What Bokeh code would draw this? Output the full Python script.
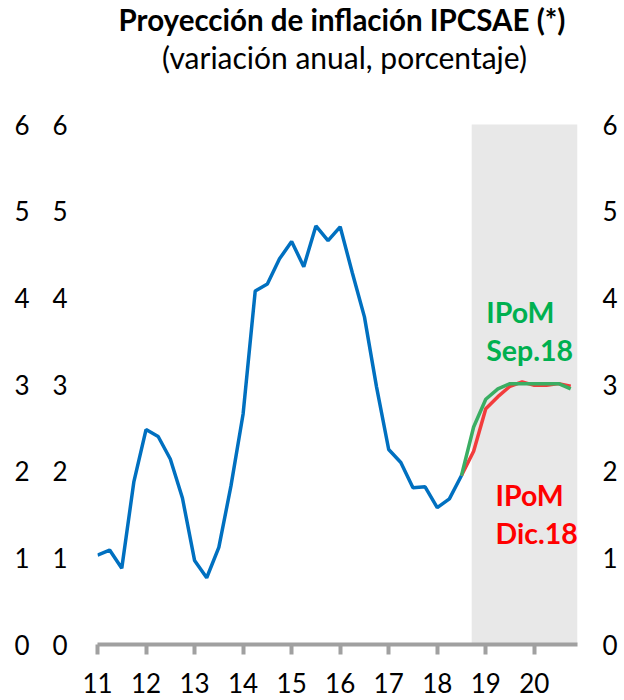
from bokeh.plotting import figure
from bokeh.models import LinearAxis, Range1d, FixedTicker, Label
from bokeh.embed import file_html
from bokeh.resources import INLINE

# ---------------- data ----------------
start_year = 2011  # first quarter of the series (quarterly data)
ipcsae = [1.03, 1.09, 0.88, 1.88, 2.48, 2.40, 2.14, 1.69, 0.97, 0.77,
          1.12, 1.83, 2.66, 4.08, 4.16, 4.45, 4.65, 4.36, 4.83, 4.66,
          4.82, 4.29, 3.78, 2.97, 2.25, 2.10, 1.81, 1.82, 1.58, 1.68, 1.95]
ipom_sep18 = [1.95, 2.51, 2.83, 2.95, 3.01, 3.01, 3.01, 3.01, 3.01, 2.95]
ipom_dic18 = [1.95, 2.23, 2.72, 2.86, 2.98, 3.03, 2.99, 2.99, 3.01, 2.98]
proj_start_index = 30            # quarter index where projections start
shade_start, shade_end = 2018.71, 2020.89
year_ticks = list(range(2011, 2021))
year_labels = {y: str(y)[2:] for y in year_ticks}
y_ticks = [0, 1, 2, 3, 4, 5, 6]

title_text = "Proyección de inflación IPCSAE (*)"
subtitle_text = "(variación anual, porcentaje)"
sep_label = ["IPoM", "Sep.18"]
sep_label_y = [3.84, 3.40]
sep_label_x = 2019.01
dic_label = ["IPoM", "Dic.18"]
dic_label_y = [1.725, 1.29]
dic_label_x = 2019.20

FONT = "Lato"

x_hist = [start_year + i * 0.25 for i in range(len(ipcsae))]
x_proj = [start_year + (proj_start_index + i) * 0.25 for i in range(len(ipom_sep18))]

p = figure(width=620, height=700, output_backend="svg", toolbar_location=None,
           x_range=Range1d(2011.0, shade_end), y_range=Range1d(0, 7.431),
           min_border_left=97, min_border_right=0, min_border_top=0, min_border_bottom=56,
           x_axis_location=None, y_axis_location=None)
p.outline_line_color = None
p.xgrid.visible = False
p.ygrid.visible = False
p.background_fill_color = "white"
p.border_fill_color = "white"

# shaded projection area
p.quad(left=[shade_start], right=[shade_end], bottom=[y_ticks[0]], top=[y_ticks[-1]],
       fill_color="#e8e8e8", line_color=None)

# lines
p.line(x_hist, ipcsae, line_color="#0070C0", line_width=3.5)
p.line(x_proj, ipom_dic18, line_color="#f23c3c", line_width=3.5)
p.line(x_proj, ipom_sep18, line_color="#3aae63", line_width=3.5)

# text annotations
for lab, yy in zip(sep_label, sep_label_y):
    p.add_layout(Label(x=sep_label_x, y=yy, text=lab, text_color="#00B050",
                       text_font=FONT, text_font_style="bold", text_font_size="28.5px",
                       text_align="left", text_baseline="alphabetic"))
for lab, yy in zip(dic_label, dic_label_y):
    p.add_layout(Label(x=dic_label_x, y=yy, text=lab, text_color="#FF0000",
                       text_font=FONT, text_font_style="bold", text_font_size="28.5px",
                       text_align="left", text_baseline="alphabetic"))

# axes
def yaxis(standoff):
    ax = LinearAxis(ticker=FixedTicker(ticks=y_ticks))
    ax.axis_line_color = None
    ax.major_tick_line_color = None
    ax.minor_tick_line_color = None
    ax.major_tick_out = 0
    ax.major_tick_in = 0
    ax.minor_tick_out = 0
    ax.minor_tick_in = 0
    ax.major_label_standoff = standoff
    ax.major_label_text_font = FONT
    ax.major_label_text_font_size = "26px"
    ax.major_label_text_color = "black"
    return ax

p.add_layout(yaxis(30), "left")
p.add_layout(yaxis(20), "left")
p.add_layout(yaxis(25), "right")

xax = LinearAxis(ticker=FixedTicker(ticks=year_ticks))
xax.major_label_overrides = year_labels
xax.axis_line_color = "#a0a0a0"
xax.axis_line_width = 4
xax.major_tick_line_color = "#a0a0a0"
xax.major_tick_line_width = 4
xax.major_tick_out = 10
xax.major_tick_in = 0
xax.minor_tick_line_color = None
xax.minor_tick_out = 0
xax.major_label_standoff = 18
xax.major_label_text_font = FONT
xax.major_label_text_font_size = "26px"
xax.major_label_text_color = "black"
p.add_layout(xax, "below")

# titles (screen units measured from the frame's bottom-left corner)
p.add_layout(Label(x=244.5, y=625, x_units="screen", y_units="screen", text=title_text,
                   text_font=FONT, text_font_size="29.5px", text_font_style="bold",
                   text_color="black", text_align="center", text_baseline="alphabetic"))
p.add_layout(Label(x=247, y=587.5, x_units="screen", y_units="screen", text=subtitle_text,
                   text_font=FONT, text_font_size="30px", text_font_style="normal",
                   text_color="black", text_align="center", text_baseline="alphabetic"))

open("out.html", "w").write(file_html(p, INLINE))
